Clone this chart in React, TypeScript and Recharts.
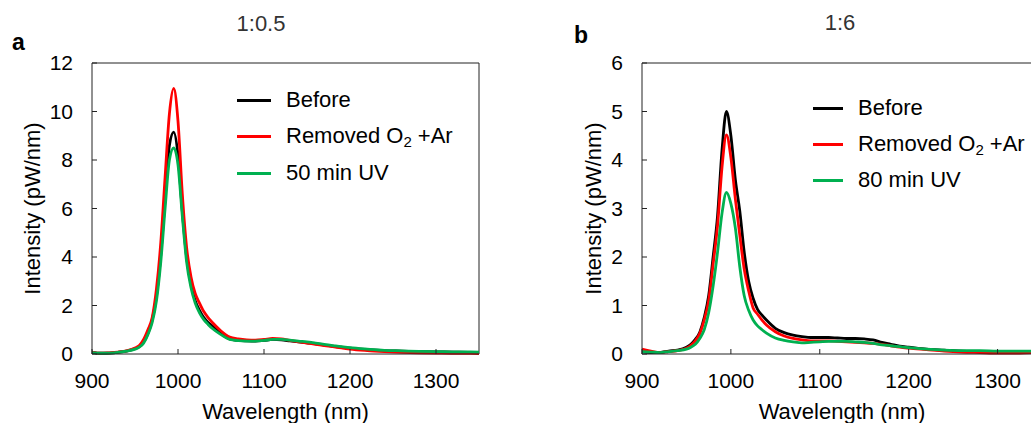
import React from "react";
import {
  LineChart,
  Line,
  XAxis,
  YAxis,
  Legend,
  ReferenceLine,
  Label,
} from "recharts";

const FONT = '"Liberation Sans", Arial, sans-serif';

const wavelengths = [
  900, 910, 920, 930, 940, 950,
  955, 960, 965, 970, 975, 980, 985, 990, 995, 1000, 1005, 1010, 1015, 1020, 1025, 1030, 1035, 1040,
  1050, 1060, 1070, 1080, 1090, 1100, 1110, 1120, 1130, 1140, 1150, 1160, 1170, 1180, 1190, 1200,
  1220, 1240, 1260, 1280, 1300, 1320, 1340,
  1350,
];

// panel a (1:0.5)
const beforeA = [
  0.08, 0.03, 0.04, 0.07, 0.12, 0.22,
  0.3, 0.5, 0.85, 1.4, 2.4, 4.1, 6.4, 8.6, 9.15, 8.2, 5.9, 4.0, 2.9, 2.2, 1.8, 1.5, 1.3, 1.15,
  0.85, 0.62, 0.56, 0.54, 0.53, 0.56, 0.6, 0.58, 0.54, 0.5, 0.46, 0.42, 0.37, 0.32, 0.28, 0.24,
  0.18, 0.14, 0.12, 0.1, 0.09, 0.08, 0.07,
  0.07,
];
const removedA = [
  0.08, 0.03, 0.05, 0.08, 0.13, 0.25,
  0.35, 0.6, 1.0, 1.5, 2.7, 4.6, 7.3, 9.9, 10.95, 9.6, 6.6, 4.4, 3.2, 2.5, 2.1, 1.75, 1.5, 1.3,
  0.95, 0.7, 0.62, 0.58, 0.57, 0.6, 0.64, 0.62, 0.56, 0.5, 0.45, 0.4, 0.35, 0.3, 0.25, 0.2,
  0.14, 0.1, 0.07, 0.05, 0.04, 0.03, 0.03,
  0.02,
];
const uvA = [
  0.06, 0.03, 0.04, 0.07, 0.12, 0.2,
  0.28, 0.45, 0.8, 1.3, 2.2, 3.8, 6.0, 8.0, 8.5, 7.8, 5.7, 3.8, 2.75, 2.1, 1.7, 1.42, 1.22, 1.05,
  0.8, 0.6, 0.55, 0.53, 0.53, 0.56, 0.6, 0.6, 0.57, 0.53, 0.5, 0.45, 0.4, 0.35, 0.3, 0.26,
  0.2, 0.15, 0.13, 0.11, 0.1, 0.09, 0.09,
  0.08,
];

// panel b (1:6)
const beforeB = [
  0.05, 0.03, 0.03, 0.06, 0.08, 0.14,
  0.2, 0.3, 0.45, 0.75, 1.2, 2.0, 2.85, 4.2, 5.0, 4.5, 3.6, 2.95, 2.1, 1.5, 1.15, 0.92, 0.8, 0.7,
  0.53, 0.44, 0.39, 0.36, 0.34, 0.34, 0.34, 0.33, 0.32, 0.32, 0.31, 0.29, 0.24, 0.2, 0.16, 0.14,
  0.1, 0.08, 0.06, 0.05, 0.04, 0.04, 0.03,
  0.03,
];
const removedB = [
  0.1, 0.06, 0.03, 0.05, 0.07, 0.12,
  0.18, 0.27, 0.42, 0.7, 1.1, 1.85, 2.65, 3.85, 4.52, 4.05, 3.2, 2.45, 1.75, 1.3, 0.95, 0.82, 0.7, 0.6,
  0.46, 0.37, 0.32, 0.29, 0.27, 0.27, 0.27, 0.26, 0.25, 0.24, 0.23, 0.22, 0.2, 0.17, 0.14, 0.12,
  0.09, 0.06, 0.04, 0.03, 0.02, 0.02, 0.03,
  0.03,
];
const uvB = [
  0.05, 0.04, 0.03, 0.05, 0.07, 0.1,
  0.14, 0.2, 0.32, 0.5, 0.85, 1.4, 2.1, 2.9, 3.33, 3.1, 2.6, 1.8, 1.2, 0.9, 0.7, 0.58, 0.5, 0.43,
  0.33, 0.28, 0.25, 0.23, 0.24, 0.25, 0.26, 0.26, 0.26, 0.25, 0.24, 0.22, 0.19, 0.17, 0.15, 0.13,
  0.1, 0.08, 0.07, 0.07, 0.06, 0.06, 0.06,
  0.06,
];

const xTicks = [900, 1000, 1100, 1200, 1300];
const yTicksA = [0, 2, 4, 6, 8, 10, 12];
const yTicksB = [0, 1, 2, 3, 4, 5, 6];
const legendOrder = ["Before", "Removed O₂ +Ar", "50 min UV", "80 min UV"];

const rowsA = wavelengths.map((w, i) => ({ w, before: beforeA[i], removed: removedA[i], uv: uvA[i] }));
const rowsB = wavelengths.map((w, i) => ({ w, before: beforeB[i], removed: removedB[i], uv: uvB[i] }));

const AXIS = "#222";
const TICK_FS = 21;
const TITLE_FS = 22;

function makeLegend(lineW: number, rowH: number) {
  return function LegendBox(props: any) {
    const items = [...(props.payload || [])].sort(
      (a: any, b: any) => legendOrder.indexOf(a.value) - legendOrder.indexOf(b.value)
    );
    return (
      <div style={{ fontFamily: FONT, fontSize: 22, color: "#000" }}>
        {items.map((it: any) => {
          const parts = String(it.value).split("₂");
          return (
            <div key={it.value} style={{ display: "flex", alignItems: "center", height: rowH }}>
              <div style={{ width: lineW, height: 3, background: it.color, marginRight: 15 }} />
              <span style={{ whiteSpace: "nowrap" }}>
                {parts[0]}
                {parts.length > 1 && <sub style={{ fontSize: 15, verticalAlign: -4 }}>2</sub>}
                {parts[1]}
              </span>
            </div>
          );
        })}
      </div>
    );
  };
}

function Panel(props: {
  rows: any[];
  yMax: number;
  yTicks: number[];
  width: number;
  right: number;
  yTitleOffset: number;
  uvName: string;
  legend: { left: number; top: number; lineW: number; rowH: number };
}) {
  const { rows, yMax, yTicks, width, right, yTitleOffset, uvName, legend } = props;
  return (
    <LineChart
      width={width}
      height={423}
      data={rows}
      margin={{ top: 63, right, left: 0, bottom: 9 }}
      style={{ fontFamily: FONT }}
    >
      <XAxis
        dataKey="w"
        type="number"
        domain={[900, 1350]}
        ticks={xTicks}
        allowDataOverflow
        height={60}
        stroke={AXIS}
        tickSize={-5}
        tickMargin={24}
        tick={{ fill: "#000", fontSize: TICK_FS, fontFamily: FONT }}
      >
        <Label
          content={(p: any) => (
            <text
              x={p.viewBox.x + p.viewBox.width / 2}
              y={p.viewBox.y + 65}
              textAnchor="middle"
              fontSize={TITLE_FS}
              fill="#000"
              fontFamily={FONT}
            >
              Wavelength (nm)
            </text>
          )}
        />
      </XAxis>
      <YAxis
        type="number"
        domain={[0, yMax]}
        ticks={yTicks}
        width={92}
        stroke={AXIS}
        tickSize={-5}
        tickMargin={24}
        tick={{ fill: "#000", fontSize: TICK_FS, fontFamily: FONT }}
      >
        <Label
          content={(p: any) => {
            const cx = p.viewBox.x + p.viewBox.width - yTitleOffset;
            const cy = p.viewBox.y + p.viewBox.height / 2;
            return (
              <text
                x={cx}
                y={cy}
                transform={`rotate(-90 ${cx} ${cy})`}
                textAnchor="middle"
                dominantBaseline="central"
                fontSize={TITLE_FS}
                fill="#000"
                fontFamily={FONT}
              >
                Intensity (pW/nm)
              </text>
            );
          }}
        />
      </YAxis>
      <ReferenceLine y={yMax} stroke={AXIS} strokeWidth={1} />
      <ReferenceLine x={1350} stroke={AXIS} strokeWidth={1} />
      <Legend
        layout="vertical"
        align="center"
        verticalAlign="middle"
        wrapperStyle={{ left: legend.left, top: legend.top, width: "auto", height: "auto" }}
        content={makeLegend(legend.lineW, legend.rowH)}
      />
      <Line type="monotone" dataKey="before" name="Before" stroke="#000000" strokeWidth={2.8} dot={false} isAnimationActive={false} />
      <Line type="monotone" dataKey="removed" name="Removed O₂ +Ar" stroke="#ff0000" strokeWidth={2.8} dot={false} isAnimationActive={false} />
      <Line type="monotone" dataKey="uv" name={uvName} stroke="#00b050" strokeWidth={2.8} dot={false} isAnimationActive={false} />
    </LineChart>
  );
}

export default function App() {
  return (
    <div
      style={{
        position: "absolute",
        left: 0,
        top: 0,
        width: 1031,
        height: 423,
        overflow: "hidden",
        background: "#fff",
        fontFamily: FONT,
      }}
    >
      <div style={{ position: "absolute", left: 0, top: 0 }}>
        <Panel
          rows={rowsA}
          yMax={12}
          yTicks={yTicksA}
          width={520}
          right={41}
          yTitleOffset={60}
          uvName="50 min UV"
          legend={{ left: 237, top: 82, lineW: 34, rowH: 36.5 }}
        />
      </div>
      <div style={{ position: "absolute", left: 550, top: 0 }}>
        <Panel
          rows={rowsB}
          yMax={6}
          yTicks={yTicksB}
          width={500}
          right={8}
          yTitleOffset={49}
          uvName="80 min UV"
          legend={{ left: 263, top: 90, lineW: 30, rowH: 36 }}
        />
      </div>
      <svg
        width={1031}
        height={423}
        style={{ position: "absolute", left: 0, top: 0, pointerEvents: "none" }}
      >
        <text x={261} y={31} textAnchor="middle" fontSize={22} fill="#333" fontFamily={FONT}>
          1:0.5
        </text>
        <text x={840} y={30} textAnchor="middle" fontSize={22} fill="#333" fontFamily={FONT}>
          1:6
        </text>
        <text x={12} y={50} fontSize={23} fontWeight="bold" fill="#000" fontFamily={FONT}>
          a
        </text>
        <text x={574} y={43} fontSize={23} fontWeight="bold" fill="#000" fontFamily={FONT}>
          b
        </text>
      </svg>
    </div>
  );
}
